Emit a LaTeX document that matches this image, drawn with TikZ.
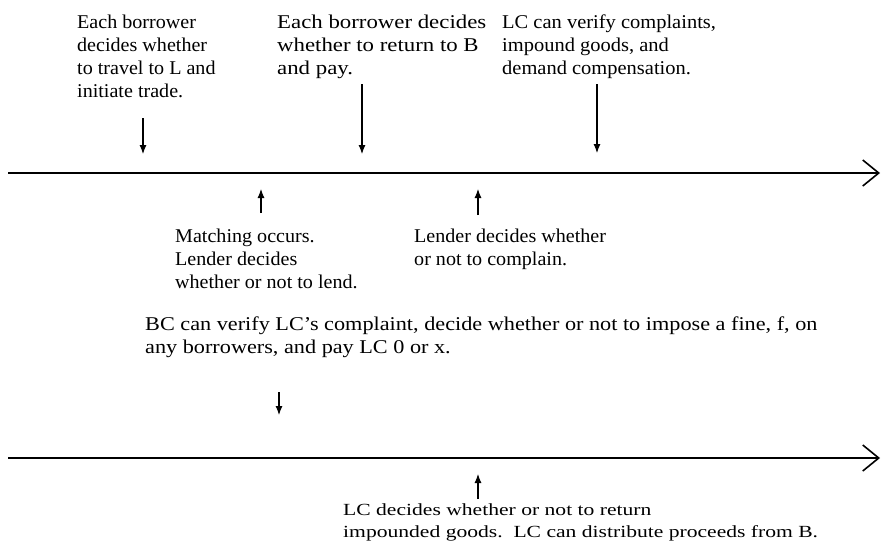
\documentclass[tikz,border=0pt]{standalone}
\usepackage{fontspec}
\setmainfont{Liberation Serif}
\usetikzlibrary{arrows.meta}
\newcommand\tlines[2]{\scalebox{#1}[1]{\begin{tabular}[t]{@{}l@{}}#2\end{tabular}}}
\begin{document}
\begin{tikzpicture}[x=1pt,y=-1pt,
  lbl/.style={inner sep=0pt,anchor=base west,font=\fontsize{19.5}{23}\selectfont},
  lblsmall/.style={inner sep=0pt,anchor=base west,font=\fontsize{17}{22}\selectfont},
  tick/.style={line width=1.1pt,-{Latex[length=9pt,width=7pt]}},
  timeline/.style={line width=2.4pt,-{Straight Barb[length=16pt,width=26pt,line width=1.6pt]}}]
\useasboundingbox[fill=white] (0,0) rectangle (882,552);
% first timeline
\coordinate (L1s) at (8,173);
\coordinate (L1e) at (880,173);
\draw[timeline] (L1s) -- (L1e);
\node[lbl] (t1) at (77,28) {\tlines{1.03}{Each borrower\\decides whether\\to travel to L and\\initiate trade.}};
\node[lbl] (t2) at (277,28) {\tlines{1.17}{Each borrower decides\\whether to return to B\\and pay.}};
\node[lbl] (t3) at (502,28) {\tlines{1.05}{LC can verify complaints,\\impound goods, and\\demand compensation.}};
\coordinate (a1s) at (143,118); \coordinate (a1e) at (143,154);
\coordinate (a2s) at (362,84);  \coordinate (a2e) at (362,154);
\coordinate (a3s) at (597,84);  \coordinate (a3e) at (597,153);
\draw[tick] (a1s) -- (a1e);
\draw[tick] (a2s) -- (a2e);
\draw[tick] (a3s) -- (a3e);
\coordinate (u1s) at (261,213); \coordinate (u1e) at (261,189);
\coordinate (u2s) at (478,215); \coordinate (u2e) at (478,189);
\draw[tick] (u1s) -- (u1e);
\draw[tick] (u2s) -- (u2e);
\node[lbl] (b1) at (175,242) {\tlines{1.03}{Matching occurs.\\Lender decides\\whether or not to lend.}};
\node[lbl] (b2) at (414,242) {\tlines{1.03}{Lender decides whether\\or not to complain.}};
% second part
\node[lbl] (t4) at (145,330) {\tlines{1.14}{BC can verify LC's complaint, decide whether or not to impose a fine, f, on\\any borrowers, and pay LC 0 or x.}};
\coordinate (a4s) at (279,392); \coordinate (a4e) at (279,415);
\draw[tick] (a4s) -- (a4e);
\coordinate (L2s) at (8,458);
\coordinate (L2e) at (880,458);
\draw[timeline] (L2s) -- (L2e);
\coordinate (u3s) at (478,499); \coordinate (u3e) at (478,474);
\draw[tick] (u3s) -- (u3e);
\node[lblsmall] (b3) at (343,515) {\tlines{1.27}{LC decides whether or not to return\\impounded goods.\ \ LC can distribute proceeds from B.}};
\end{tikzpicture}
\end{document}
